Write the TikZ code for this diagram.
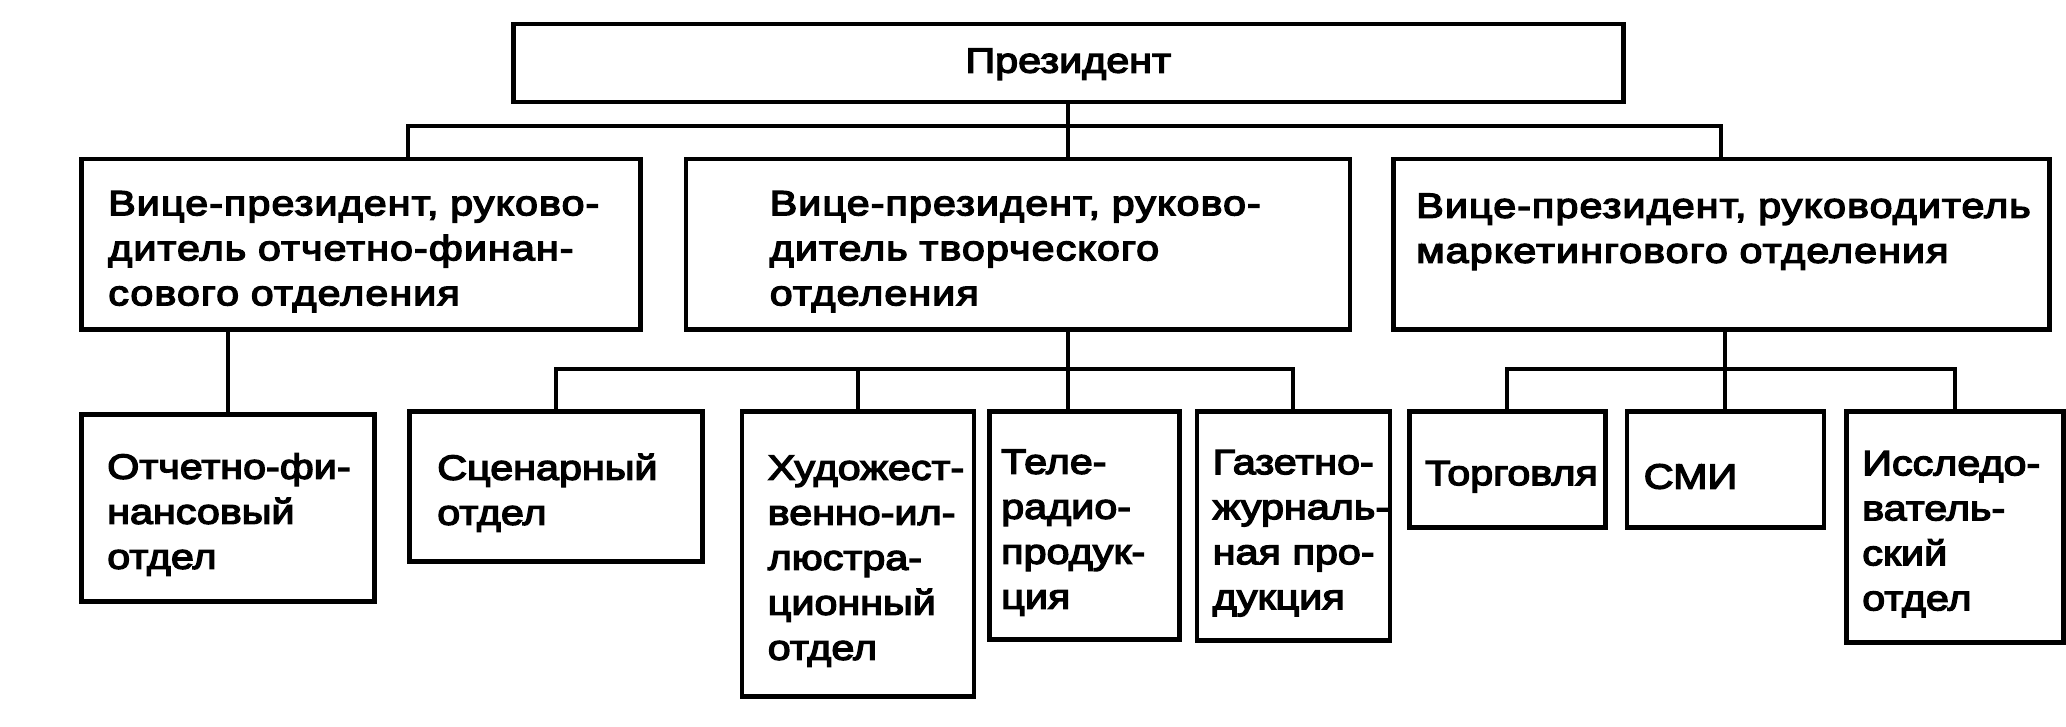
\documentclass[tikz,border=0pt]{standalone}
\usepackage{fontspec}
\setmainfont{Liberation Sans}[FakeStretch=1.18,FakeBold=4]
\usetikzlibrary{positioning}
\hyphenpenalty=10000
\exhyphenpenalty=10000

\begin{document}
\begin{tikzpicture}[x=1pt,y=1pt,
  box/.style={draw,line width=4.5pt,anchor=north west,align=left,inner sep=0pt,
    text height=39pt,font=\fontsize{35}{45}\selectfont},
  vp/.style={box,minimum height=170pt,
    font=\fontsize{35}{45}\selectfont\addfontfeatures{LetterSpace=3}},
  link/.style={line width=4pt}]
\useasboundingbox (0,0) rectangle (2066,-727);
% top levels
\node (pres) [box,align=center,text height=26pt,minimum width=1110pt,minimum height=78pt] at (511,-22) {Президент};
\node (vpa) [vp,minimum width=559pt,text width=505pt] at (79,-157)
  {Вице-президент,~руково-\\дитель~отчетно-финан-\\сового~отделения};
\node (vpb) [right=41pt of vpa.north east,vp,minimum width=664pt,text width=496pt]
  {Вице-президент,~руково-\\дитель~творческого\\отделения};
\node (vpc) [right=39pt of vpb.north east,vp,minimum width=656pt,text width=610pt,text depth=92pt]
  {Вице-президент,~руководитель\\маркетингового~отделения};
% departments
\node (fin) [box,minimum width=293pt,minimum height=187pt,text width=241pt] at (79,-412)
  {Отчетно-фи-\\нансовый\\отдел};
\node (scen) [box,minimum width=293pt,minimum height=150pt,text width=237pt] at (407,-409)
  {Сценарный\\отдел};
\node (khud) [right=35pt of scen.north east,box,minimum width=232pt,minimum height=285pt,text width=180pt]
  {Художест-\\венно-ил-\\люстра-\\ционный\\отдел};
\node (tele) [right=11pt of khud.north east,box,minimum width=190pt,minimum height=228pt,text width=166pt]
  {Теле-\\радио-\\продук-\\ция};
\node (gaz) [right=13pt of tele.north east,box,minimum width=193pt,minimum height=229pt,text width=161pt]
  {Газетно-\\журналь-\\ная~про-\\дукция};
\node (torg) [right=15pt of gaz.north east,box,minimum width=196pt,minimum height=116pt,text width=164pt]
  {Торговля};
\node (smi) [right=17pt of torg.north east,box,minimum width=197pt,minimum height=116pt,text width=163pt]
  {СМИ};
\node (issl) [right=18pt of smi.north east,box,minimum width=217pt,minimum height=231pt,text width=185pt]
  {Исследо-\\ватель-\\ский\\отдел};
% connectors
\coordinate (busa) at (0,-126);
\coordinate (busb) at (0,-369);
\draw[link] (pres.south) -- (pres.south |- vpb.north);
\draw[link] ([xshift=47pt]vpa.north) |- (busa -| vpc.north) -- (vpc.north);
\draw[link] (vpa.south -| fin.north) -- (fin.north);
\draw[link] (pres.south |- vpb.south) -- (pres.south |- tele.north);
\draw[link] (scen.north) |- (busb -| gaz.north) -- (gaz.north);
\draw[link] (khud.north) -- (khud.north |- busb);
\draw[link] (vpc.south -| smi.north) -- (smi.north);
\draw[link] (torg.north) |- (busb -| issl.north) -- (issl.north);
\end{tikzpicture}
\end{document}
